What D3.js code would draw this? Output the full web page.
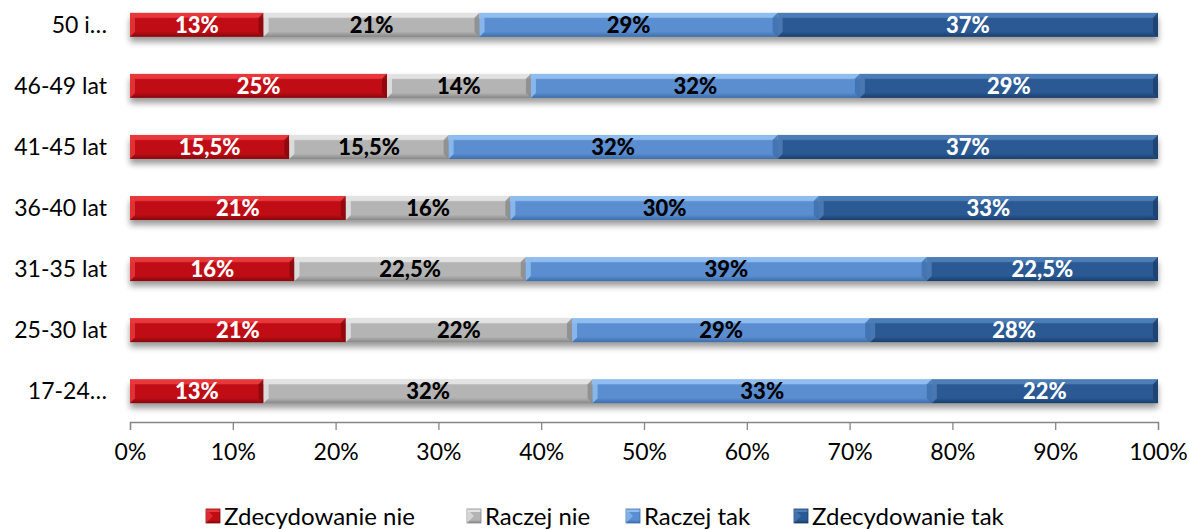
<!DOCTYPE html>
<html>
<head>
<meta charset="utf-8">
<script src="https://cdn.jsdelivr.net/npm/d3@7"></script>
<style>
  body { margin: 0; background: #fff; }
  text { font-family: Lato, "Open Sans", sans-serif; }
</style>
</head>
<body>
<svg id="chart" width="1189" height="529"></svg>
<script>
// categories, top to bottom
var categories = ["50 i\u2026", "46-49 lat", "41-45 lat", "36-40 lat", "31-35 lat", "25-30 lat", "17-24\u2026"];
var seriesNames = ["Zdecydowanie nie", "Raczej nie", "Raczej tak", "Zdecydowanie tak"];
var zdecydowanieNie = [13, 25, 15.5, 21, 16, 21, 13];
var raczejNie = [21, 14, 15.5, 16, 22.5, 22, 32];
var raczejTak = [29, 32, 32, 30, 39, 29, 33];
var zdecydowanieTak = [37, 29, 37, 33, 22.5, 28, 22];
var tickValues = [0, 10, 20, 30, 40, 50, 60, 70, 80, 90, 100];

// colors: [top, base, bottom], label color
var palette = [
  { top: "#e8383b", base: "#c00d15", bottom: "#85080c", text: "#fff" },
  { top: "#e2e2e2", base: "#b4b4b4", bottom: "#888888", text: "#000" },
  { top: "#90bdf0", base: "#5a8ed0", bottom: "#3d6eab", text: "#000" },
  { top: "#4d7db7", base: "#2a5994", bottom: "#1a3e6b", text: "#fff" }
];

var svg = d3.select("#chart");
var defs = svg.append("defs");

var x = d3.scaleLinear().domain([0, 100]).range([130, 1158]);
var y = d3.scaleBand().domain(categories).range([-5.5, 421.5]).paddingInner(0.6066).paddingOuter(0.3);

// build table
var allSeries = [zdecydowanieNie, raczejNie, raczejTak, zdecydowanieTak];
var rows = categories.map(function (c, i) {
  var r = { cat: c };
  seriesNames.forEach(function (s, k) { r[s] = allSeries[k][i]; });
  return r;
});
var stacked = d3.stack().keys(seriesNames)(rows);

// gradients
palette.forEach(function (p, k) {
  var g = defs.append("linearGradient").attr("id", "grad" + k)
    .attr("x1", 0).attr("y1", 0).attr("x2", 0).attr("y2", 1);
  g.append("stop").attr("offset", "0%").attr("stop-color", p.top);
  g.append("stop").attr("offset", "18%").attr("stop-color", p.top);
  g.append("stop").attr("offset", "24%").attr("stop-color", p.base);
  g.append("stop").attr("offset", "78%").attr("stop-color", p.base);
  g.append("stop").attr("offset", "100%").attr("stop-color", p.bottom);
});

var shadow = defs.append("filter").attr("id", "shadow")
  .attr("x", "-5%").attr("y", "-50%").attr("width", "110%").attr("height", "220%");
shadow.append("feGaussianBlur").attr("in", "SourceAlpha").attr("stdDeviation", 3);
shadow.append("feOffset").attr("dy", 5).attr("result", "b");
shadow.append("feComponentTransfer").append("feFuncA").attr("type", "linear").attr("slope", 0.4);

// shadows under whole bars
svg.append("g").selectAll("rect").data(categories).join("rect")
  .attr("x", x(0)).attr("width", x(100) - x(0))
  .attr("y", function (d) { return y(d); })
  .attr("height", y.bandwidth())
  .attr("fill", "#000")
  .attr("filter", "url(#shadow)");

var bev = 5;
var layers = svg.append("g").selectAll("g").data(stacked).join("g");

layers.each(function (layer, k) {
  var g = d3.select(this);
  var seg = g.selectAll("g").data(layer).join("g");

  seg.append("rect")
    .attr("x", function (d) { return x(d[0]); })
    .attr("y", function (d) { return y(d.data.cat); })
    .attr("width", function (d) { return x(d[1]) - x(d[0]); })
    .attr("height", y.bandwidth())
    .attr("fill", "url(#grad" + k + ")");

  // left bevel (light)
  seg.append("path")
    .attr("d", function (d) {
      var x0 = x(d[0]), y0 = y(d.data.cat), y1 = y0 + y.bandwidth();
      return "M" + x0 + "," + y0 + "L" + (x0 + bev) + "," + (y0 + bev) + "L" + (x0 + bev) + "," + (y1 - bev) + "L" + x0 + "," + y1 + "Z";
    })
    .attr("fill", palette[k].top).attr("opacity", 0.85);

  // right bevel (dark)
  seg.append("path")
    .attr("d", function (d) {
      var x1 = x(d[1]), y0 = y(d.data.cat), y1 = y0 + y.bandwidth();
      return "M" + x1 + "," + y0 + "L" + (x1 - bev) + "," + (y0 + bev) + "L" + (x1 - bev) + "," + (y1 - bev) + "L" + x1 + "," + y1 + "Z";
    })
    .attr("fill", palette[k].bottom).attr("opacity", 0.8);

  seg.append("text")
    .attr("x", function (d) { return (x(d[0]) + x(d[1])) / 2; })
    .attr("y", function (d) { return y(d.data.cat) + y.bandwidth() / 2; })
    .attr("dy", "0.36em")
    .attr("text-anchor", "middle")
    .attr("font-weight", "900")
    .attr("font-size", "22px")
    .attr("fill", palette[k].text)
    .text(function (d) { return String(d[1] - d[0]).replace(".", ",") + "%"; });
});

// category labels
svg.append("g").selectAll("text").data(categories).join("text")
  .attr("x", 107)
  .attr("y", function (d) { return y(d) + y.bandwidth() / 2; })
  .attr("dy", "0.36em")
  .attr("text-anchor", "end")
  .attr("font-size", "23px")
  .attr("fill", "#000")
  .text(function (d) { return d; });

// x axis
var axis = svg.append("g").attr("transform", "translate(0,422)")
  .call(d3.axisBottom(x).tickValues(tickValues).tickSize(8).tickPadding(14)
    .tickFormat(function (d) { return d + "%"; }));
axis.select(".domain").attr("stroke", "#868686").attr("stroke-width", 1.3);
axis.selectAll(".tick line").attr("stroke", "#868686").attr("stroke-width", 1.3);
axis.selectAll(".tick text").attr("font-size", "23px").attr("fill", "#000")
  .attr("font-family", "Lato, 'Open Sans', sans-serif");

// legend
var legendX = [206, 467, 626, 794];
var legend = svg.append("g").selectAll("g").data(seriesNames).join("g")
  .attr("transform", function (d, i) { return "translate(" + legendX[i] + ",509)"; });
legend.append("rect").attr("width", 14).attr("height", 14)
  .attr("fill", function (d, i) { return "url(#grad" + i + ")"; })
  .attr("stroke", function (d, i) { return palette[i].bottom; }).attr("stroke-width", 0.8);
legend.append("path").attr("d", "M0,0L7,7L0,14Z")
  .attr("fill", function (d, i) { return palette[i].top; }).attr("opacity", 0.7);
legend.append("text").attr("x", 18).attr("y", 7).attr("dy", "0.36em")
  .attr("font-size", "24px").attr("fill", "#000")
  .text(function (d) { return d; });
</script>
</body>
</html>
